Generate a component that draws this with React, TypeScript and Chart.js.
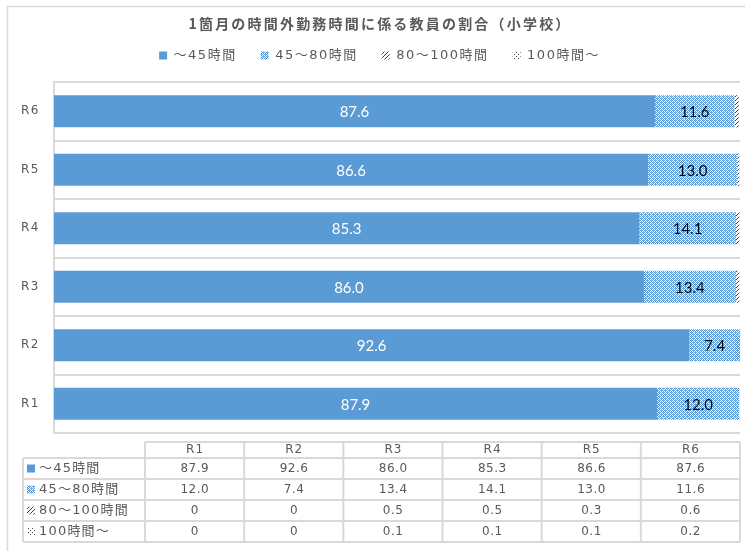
import React, { useEffect, useRef } from "react";
import { Chart, registerables } from "chart.js";

Chart.register(...registerables);

const categories = ["R1", "R2", "R3", "R4", "R5", "R6"];
const seriesNames = ["～45時間", "45～80時間", "80～100時間", "100時間～"];
const under45 = [87.9, 92.6, 86.0, 85.3, 86.6, 87.6];
const h45to80 = [12.0, 7.4, 13.4, 14.1, 13.0, 11.6];
const h80to100 = [0, 0, 0.5, 0.5, 0.3, 0.6];
const over100 = [0, 0, 0.1, 0.1, 0.1, 0.2];
const titleText = "1箇月の時間外勤務時間に係る教員の割合（小学校）";

const FONT = "'Noto Sans CJK JP', 'Noto Sans', sans-serif";
const WFONT = "'DejaVu Sans', 'Noto Sans CJK JP', sans-serif";
const GRAY = "#595959";
const LINE = "#d9d9d9";

function makePattern(kind: string): CanvasPattern | string {
  const c = document.createElement("canvas");
  c.width = 4;
  c.height = 4;
  const g = c.getContext("2d")!;
  g.fillStyle = "#ffffff";
  g.fillRect(0, 0, 4, 4);
  if (kind === "check") {
    g.fillStyle = "#5B9BD5";
    for (let x = 0; x < 4; x++)
      for (let y = 0; y < 4; y++) if ((x + y) % 2 === 0) g.fillRect(x, y, 1, 1);
    g.fillStyle = "#7FB0DE";
    g.fillRect(1, 2, 1, 1);
    g.fillRect(3, 0, 1, 1);
  } else if (kind === "diag") {
    g.fillStyle = "#404040";
    for (let i = 0; i < 4; i++) g.fillRect(3 - i, i, 1, 1);
  } else {
    g.fillStyle = "#404040";
    g.fillRect(0, 0, 1, 1);
    g.fillRect(2, 2, 1, 1);
  }
  const p = g.createPattern(c, "repeat");
  return p || "#5B9BD5";
}

const fmt = (v: number, i: number) => (i >= 2 && v === 0 ? "0" : v.toFixed(1));

export default function App() {
  const ref = useRef<HTMLCanvasElement>(null);
  useEffect(() => {
    const canvas = ref.current!;
    const fills = ["#5B9BD5", makePattern("check"), makePattern("diag"), makePattern("dots")];
    const series = [under45, h45to80, h80to100, over100];

    const framePlugin = {
      id: "frame",
      beforeUpdate(chart: any) {
        chart.ctx.letterSpacing = "1.5px";
      },
      afterLayout(chart: any) {
        const lg = chart.legend;
        if (lg) {
          lg.top -= 10;
          lg.bottom -= 10;
          lg.left += 6;
          lg.right += 6;
        }
      },
      beforeDraw(chart: any) {
        const ctx = chart.ctx;
        ctx.letterSpacing = "1.5px";
        ctx.save();
        ctx.fillStyle = "#fff";
        ctx.fillRect(0, 0, chart.width, chart.height);
        ctx.strokeStyle = LINE;
        ctx.lineWidth = 1.5;
        ctx.strokeRect(7.5, 6.5, 800, 600);
        ctx.fillStyle = GRAY;
        ctx.font = `bold 14px ${FONT}`;
        ctx.letterSpacing = "2.2px";
        ctx.textAlign = "center";
        ctx.textBaseline = "middle";
        ctx.fillText(titleText, 380, 24);
        ctx.restore();
      },
    };

    const labelPlugin = {
      id: "barLabels",
      afterDatasetsDraw(chart: any) {
        const ctx = chart.ctx;
        ctx.save();
        ctx.letterSpacing = "0px";
        ctx.font = "15px Lato, 'Open Sans', sans-serif";
        ctx.textAlign = "center";
        ctx.textBaseline = "middle";
        [0, 1].forEach((di) => {
          const meta = chart.getDatasetMeta(di);
          meta.data.forEach((el: any, i: number) => {
            const v = series[di][i];
            const cx = (el.x + el.base) / 2;
            ctx.fillStyle = di === 0 ? "#ffffff" : "#000000";
            ctx.fillText(v.toFixed(1), cx, el.y + 1);
          });
        });
        ctx.restore();
      },
    };

    const tablePlugin = {
      id: "dataTable",
      afterDraw(chart: any) {
        const ctx = chart.ctx;
        const left0 = 23;
        const colStart = 145;
        const right = 740;
        const rows = [442, 458, 479, 500, 521, 542];
        const colW = (right - colStart) / categories.length;
        ctx.save();
        ctx.strokeStyle = LINE;
        ctx.lineWidth = 2;
        ctx.beginPath();
        ctx.moveTo(colStart, rows[0]);
        ctx.lineTo(right, rows[0]);
        for (let r = 1; r < rows.length; r++) {
          ctx.moveTo(left0, rows[r]);
          ctx.lineTo(right, rows[r]);
        }
        ctx.moveTo(left0, rows[1]);
        ctx.lineTo(left0, rows[5]);
        for (let j = 0; j <= categories.length; j++) {
          const x = colStart + j * colW;
          ctx.moveTo(x, rows[0]);
          ctx.lineTo(x, rows[5]);
        }
        ctx.stroke();

        ctx.fillStyle = GRAY;
        ctx.textBaseline = "middle";
        ctx.textAlign = "center";
        ctx.font = `12px ${WFONT}`;
        ctx.letterSpacing = "1px";
        categories.forEach((c, j) => {
          ctx.fillText(c, colStart + (j + 0.5) * colW + 0.5, (rows[0] + rows[1]) / 2);
        });
        series.forEach((s, i) => {
          const cy = (rows[i + 1] + rows[i + 2]) / 2;
          ctx.font = `12px ${WFONT}`;
          ctx.letterSpacing = "0.5px";
          s.forEach((v, j) => {
            ctx.fillStyle = GRAY;
            ctx.textAlign = "center";
            ctx.fillText(fmt(v, i), colStart + (j + 0.5) * colW + 0.25, cy + 0.5);
          });
          ctx.fillStyle = fills[i] as any;
          ctx.fillRect(27, cy - 4, 8, 8);
          ctx.fillStyle = GRAY;
          ctx.textAlign = "left";
          ctx.font = `13px ${WFONT}`;
          ctx.letterSpacing = "1.2px";
          ctx.fillText(seriesNames[i], 39, cy + 0.5);
        });
        ctx.restore();
      },
    };

    const chart = new Chart(canvas, {
      type: "bar",
      data: {
        labels: categories,
        datasets: series.map((s, i) => ({
          label: seriesNames[i],
          data: s,
          backgroundColor: fills[i] as any,
          borderWidth: 0,
          barPercentage: 0.55,
          categoryPercentage: 1,
        })),
      },
      options: {
        indexAxis: "y",
        responsive: false,
        animation: false,
        events: [],
        layout: { padding: { top: 35, left: 7, right: 5, bottom: 118 } },
        scales: {
          x: { stacked: true, min: 0, max: 100, display: false },
          y: {
            stacked: true,
            reverse: true,
            afterFit: (scale: any) => {
              scale.width = 47;
            },
            grid: { color: LINE, lineWidth: 2, drawTicks: false, offset: true },
            border: { color: LINE, width: 2 },
            ticks: { color: GRAY, padding: 14, font: { family: WFONT, size: 12 } },
          },
        },
        plugins: {
          tooltip: { enabled: false },
          title: { display: false },
          legend: {
            display: true,
            labels: {
              color: GRAY,
              boxWidth: 8,
              boxHeight: 8,
              padding: 24,
              font: { family: WFONT, size: 13 },
            },
          },
        },
      },
      plugins: [framePlugin, labelPlugin, tablePlugin],
    } as any);
    return () => chart.destroy();
  }, []);

  return (
    <div style={{ position: "fixed", left: 0, top: 0, width: 745, height: 551, background: "#fff" }}>
      <canvas ref={ref} width={745} height={551} />
    </div>
  );
}
